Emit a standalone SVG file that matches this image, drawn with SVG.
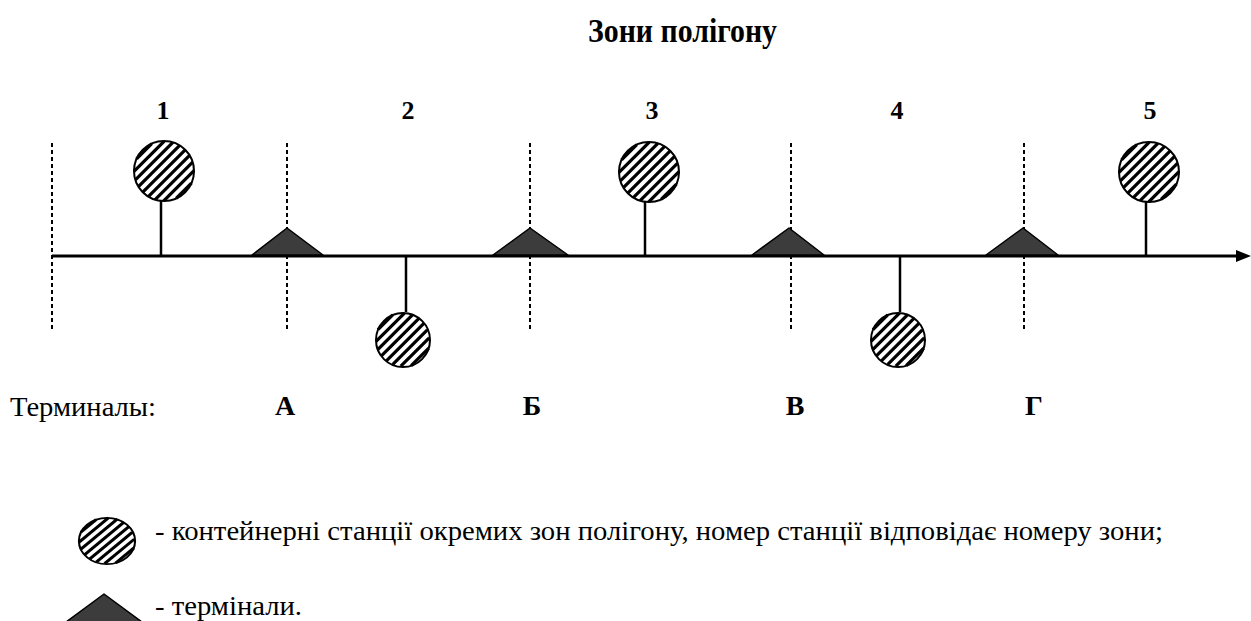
<svg xmlns="http://www.w3.org/2000/svg" width="1251" height="621" viewBox="0 0 1251 621">
<style>
.dash{stroke:#000;stroke-width:2;stroke-dasharray:4 3;fill:none}
.stem{stroke:#000;stroke-width:2.5}
.hl{stroke:#000;stroke-width:3.2}
.bg{fill:#fff}
.ol{fill:none;stroke:#000;stroke-width:2}
.term{fill:#3c3c3c;stroke:#000;stroke-width:1.5;stroke-linejoin:round}
</style>
<rect width="1251" height="621" fill="#fff"/>
<text x="10" y="416" font-family="Liberation Serif" font-size="28" textLength="146" lengthAdjust="spacingAndGlyphs">Терминалы:</text>
<text x="155" y="540" font-family="Liberation Serif" font-size="28" textLength="1008" lengthAdjust="spacingAndGlyphs">- контейнерні станції окремих зон полігону, номер станції відповідає номеру зони;</text>
<text x="155" y="615" font-family="Liberation Serif" font-size="28" textLength="147" lengthAdjust="spacingAndGlyphs">- термінали.</text>
<text x="588" y="42" font-family="Liberation Serif" font-weight="bold" font-size="33" textLength="189" lengthAdjust="spacingAndGlyphs">Зони полігону</text>
<g id="zone-numbers" font-family="Liberation Serif" font-weight="bold" font-size="26" text-anchor="middle">
<text x="163" y="119">1</text>
<text x="408" y="119">2</text>
<text x="652" y="119">3</text>
<text x="897" y="119">4</text>
<text x="1150" y="119">5</text>
</g>
<g id="terminal-letters" font-family="Liberation Serif" font-weight="bold" font-size="28" text-anchor="middle">
<text x="285" y="415">А</text>
<text x="532" y="415">Б</text>
<text x="795" y="415">В</text>
<text x="1034" y="415">Г</text>
</g>
<g id="boundaries">
<line class="dash" x1="52" y1="143" x2="52" y2="332"/>
<line class="dash" x1="287" y1="143" x2="287" y2="332"/>
<line class="dash" x1="530" y1="143" x2="530" y2="332"/>
<line class="dash" x1="791" y1="143" x2="791" y2="332"/>
<line class="dash" x1="1024" y1="143" x2="1024" y2="332"/>
</g>
<g id="connectors">
<line x1="52" y1="256" x2="1238" y2="256" stroke="#000" stroke-width="3"/>
<polygon points="1236,250 1251,256 1236,262" fill="#000"/>
<line class="stem" x1="161" y1="200" x2="161" y2="256"/>
<line class="stem" x1="406" y1="256" x2="406" y2="312"/>
<line class="stem" x1="645" y1="200" x2="645" y2="256"/>
<line class="stem" x1="900" y1="256" x2="900" y2="312"/>
<line class="stem" x1="1146" y1="200" x2="1146" y2="256"/>
</g>
<g id="terminal-A"><polygon class="term" points="252,255 287,228 323,255"/></g>
<g id="terminal-B"><polygon class="term" points="493,255 530,228 568,255"/></g>
<g id="terminal-V"><polygon class="term" points="752,255 789,228 824,255"/></g>
<g id="terminal-G"><polygon class="term" points="986,255 1023,228 1058,255"/></g>
<g id="station-1" transform="translate(164,171)">
<circle class="bg" r="30"/>
<g transform="rotate(-45)">
<line class="hl" x1="-10.8" y1="-28" x2="10.8" y2="-28"/><line class="hl" x1="-21.4" y1="-21" x2="21.4" y2="-21"/><line class="hl" x1="-26.5" y1="-14" x2="26.5" y2="-14"/><line class="hl" x1="-29.2" y1="-7" x2="29.2" y2="-7"/><line class="hl" x1="-30" y1="0" x2="30" y2="0"/><line class="hl" x1="-29.2" y1="7" x2="29.2" y2="7"/><line class="hl" x1="-26.5" y1="14" x2="26.5" y2="14"/><line class="hl" x1="-21.4" y1="21" x2="21.4" y2="21"/><line class="hl" x1="-10.8" y1="28" x2="10.8" y2="28"/>
</g>
<circle class="ol" r="30"/>
</g>
<g id="station-2" transform="translate(403,340)">
<circle class="bg" r="27"/>
<g transform="rotate(-45)">
<line class="hl" x1="-10.4" y1="-25" x2="10.4" y2="-25"/><line class="hl" x1="-20.1" y1="-18" x2="20.1" y2="-18"/><line class="hl" x1="-25.1" y1="-11" x2="25.1" y2="-11"/><line class="hl" x1="-26.9" y1="-4" x2="26.9" y2="-4"/><line class="hl" x1="-26.5" y1="3" x2="26.5" y2="3"/><line class="hl" x1="-24.4" y1="10" x2="24.4" y2="10"/><line class="hl" x1="-20.1" y1="17" x2="20.1" y2="17"/><line class="hl" x1="-12.4" y1="24" x2="12.4" y2="24"/>
</g>
<circle class="ol" r="27"/>
</g>
<g id="station-3" transform="translate(649,172)">
<circle class="bg" r="30"/>
<g transform="rotate(-45)">
<line class="hl" x1="-10.8" y1="-28" x2="10.8" y2="-28"/><line class="hl" x1="-21.4" y1="-21" x2="21.4" y2="-21"/><line class="hl" x1="-26.5" y1="-14" x2="26.5" y2="-14"/><line class="hl" x1="-29.2" y1="-7" x2="29.2" y2="-7"/><line class="hl" x1="-30" y1="0" x2="30" y2="0"/><line class="hl" x1="-29.2" y1="7" x2="29.2" y2="7"/><line class="hl" x1="-26.5" y1="14" x2="26.5" y2="14"/><line class="hl" x1="-21.4" y1="21" x2="21.4" y2="21"/><line class="hl" x1="-10.8" y1="28" x2="10.8" y2="28"/>
</g>
<circle class="ol" r="30"/>
</g>
<g id="station-4" transform="translate(898,340)">
<circle class="bg" r="27"/>
<g transform="rotate(-45)">
<line class="hl" x1="-10.4" y1="-25" x2="10.4" y2="-25"/><line class="hl" x1="-20.1" y1="-18" x2="20.1" y2="-18"/><line class="hl" x1="-25.1" y1="-11" x2="25.1" y2="-11"/><line class="hl" x1="-26.9" y1="-4" x2="26.9" y2="-4"/><line class="hl" x1="-26.5" y1="3" x2="26.5" y2="3"/><line class="hl" x1="-24.4" y1="10" x2="24.4" y2="10"/><line class="hl" x1="-20.1" y1="17" x2="20.1" y2="17"/><line class="hl" x1="-12.4" y1="24" x2="12.4" y2="24"/>
</g>
<circle class="ol" r="27"/>
</g>
<g id="station-5" transform="translate(1149,172)">
<circle class="bg" r="30"/>
<g transform="rotate(-45)">
<line class="hl" x1="-10.8" y1="-28" x2="10.8" y2="-28"/><line class="hl" x1="-21.4" y1="-21" x2="21.4" y2="-21"/><line class="hl" x1="-26.5" y1="-14" x2="26.5" y2="-14"/><line class="hl" x1="-29.2" y1="-7" x2="29.2" y2="-7"/><line class="hl" x1="-30" y1="0" x2="30" y2="0"/><line class="hl" x1="-29.2" y1="7" x2="29.2" y2="7"/><line class="hl" x1="-26.5" y1="14" x2="26.5" y2="14"/><line class="hl" x1="-21.4" y1="21" x2="21.4" y2="21"/><line class="hl" x1="-10.8" y1="28" x2="10.8" y2="28"/>
</g>
<circle class="ol" r="30"/>
</g>
<g id="legend">
<g transform="translate(107,541) scale(1.04,0.86)">
<circle class="bg" r="27"/>
<g transform="rotate(-45)">
<line class="hl" x1="-10.4" y1="-25" x2="10.4" y2="-25"/><line class="hl" x1="-20.1" y1="-18" x2="20.1" y2="-18"/><line class="hl" x1="-25.1" y1="-11" x2="25.1" y2="-11"/><line class="hl" x1="-26.9" y1="-4" x2="26.9" y2="-4"/><line class="hl" x1="-26.5" y1="3" x2="26.5" y2="3"/><line class="hl" x1="-24.4" y1="10" x2="24.4" y2="10"/><line class="hl" x1="-20.1" y1="17" x2="20.1" y2="17"/><line class="hl" x1="-12.4" y1="24" x2="12.4" y2="24"/>
</g>
<circle class="ol" r="27"/>
</g>
<polygon class="term" points="104,594 146,625 62,625"/>
</g>
</svg>
